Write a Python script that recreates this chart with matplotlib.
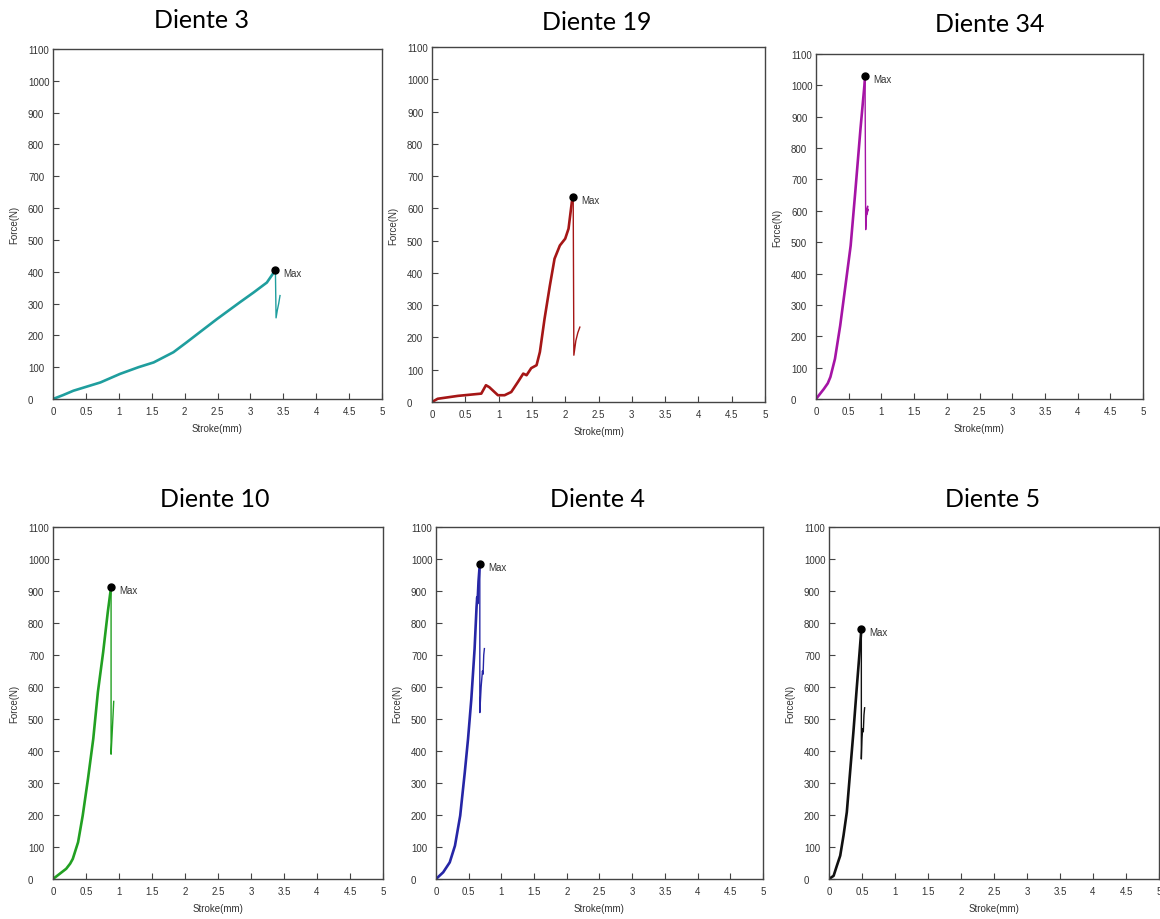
import matplotlib
matplotlib.use("Agg")
import matplotlib.pyplot as plt
from matplotlib.ticker import MultipleLocator, FuncFormatter

# ---------------- data ----------------
titles = ["Diente 3", "Diente 19", "Diente 34", "Diente 10", "Diente 4", "Diente 5"]
colors = ["#1f9e9e", "#a51616", "#a514a5", "#22a022", "#2626a6", "#111111"]

# loading curves (stroke mm, force N)
d3_x = [0, 0.15, 0.31, 0.72, 1.02, 1.30, 1.53, 1.83, 2.03, 2.25, 2.49, 2.84, 3.05, 3.25, 3.38]
d3_y = [0, 12, 26, 52, 79, 100, 115, 147, 178, 213, 251, 304, 335, 366, 405]
d19_x = [0, 0.085, 0.39, 0.69, 0.74, 0.81, 0.86, 0.99, 1.09, 1.19, 1.29, 1.37, 1.42, 1.49, 1.57,
         1.62, 1.69, 1.77, 1.84, 1.92, 2.00, 2.05, 2.10, 2.12]
d19_y = [0, 10, 19, 25, 26, 52, 46, 21, 21, 31, 62, 88, 83, 105, 114,
         155, 258, 361, 444, 485, 506, 537, 620, 635]
d34_x = [0, 0.12, 0.18, 0.22, 0.29, 0.37, 0.45, 0.53, 0.60, 0.68, 0.74, 0.75]
d34_y = [0, 32, 50, 70, 128, 234, 361, 489, 659, 861, 999, 1030]
d10_x = [0, 0.10, 0.20, 0.26, 0.30, 0.38, 0.45, 0.53, 0.61, 0.68, 0.76, 0.83, 0.87, 0.88]
d10_y = [0, 16, 32, 48, 63, 115, 198, 313, 438, 584, 709, 834, 897, 912]
d4_x = [0, 0.11, 0.21, 0.29, 0.37, 0.44, 0.49, 0.54, 0.59, 0.62, 0.63, 0.635, 0.65, 0.67]
d4_y = [0, 21, 52, 104, 198, 333, 438, 562, 719, 850, 880, 862, 930, 985]
d5_x = [0, 0.07, 0.12, 0.17, 0.22, 0.27, 0.32, 0.37, 0.42, 0.46, 0.49]
d5_y = [0, 10, 42, 73, 136, 209, 335, 460, 596, 700, 780]

# post-failure segments
f3_x = [3.38, 3.39, 3.41, 3.43, 3.45]
f3_y = [405, 255, 280, 300, 325]
f19_x = [2.12, 2.13, 2.16, 2.19, 2.22]
f19_y = [635, 145, 190, 215, 232]
f34_x = [0.75, 0.76, 0.77, 0.79, 0.78, 0.80, 0.78]
f34_y = [1030, 540, 580, 615, 600, 605, 590]
f10_x = [0.88, 0.88, 0.90, 0.92]
f10_y = [912, 390, 470, 555]
f4_x = [0.67, 0.67, 0.69, 0.71, 0.72, 0.73, 0.74]
f4_y = [985, 520, 600, 650, 640, 700, 720]
f5_x = [0.49, 0.49, 0.50, 0.51, 0.52, 0.53, 0.54]
f5_y = [780, 375, 440, 470, 460, 513, 535]

load_x = [d3_x, d19_x, d34_x, d10_x, d4_x, d5_x]
load_y = [d3_y, d19_y, d34_y, d10_y, d4_y, d5_y]
fail_x = [f3_x, f19_x, f34_x, f10_x, f4_x, f5_x]
fail_y = [f3_y, f19_y, f34_y, f10_y, f4_y, f5_y]
max_x = [3.38, 2.12, 0.75, 0.88, 0.67, 0.49]
max_y = [405, 635, 1030, 912, 985, 780]

# ---------------- layout (pixels) ----------------
W, H = 1160, 920
boxes = [(53, 382, 50, 400), (432, 765, 48, 403), (816, 1143, 55, 400),
         (53, 383, 528, 880), (436, 763, 528, 880), (829, 1159, 528, 880)]
title_pos = [(201, 21), (597, 22), (990, 25), (215, 500), (598, 500), (993, 500)]

fig = plt.figure(figsize=(W / 100, H / 100), dpi=100)
fig.patch.set_facecolor("white")

def fmt(v, p):
    return f"{v:g}"

for i in range(6):
    l, r, t, b = boxes[i]
    ax = fig.add_axes([l / W, (H - b) / H, (r - l) / W, (b - t) / H])
    ax.plot(load_x[i], load_y[i], color=colors[i], lw=1.9, solid_capstyle="round",
            solid_joinstyle="round")
    ax.plot(fail_x[i], fail_y[i], color=colors[i], lw=1.0)
    ax.plot([max_x[i]], [max_y[i]], "o", color="black", ms=5, zorder=5)
    ax.annotate("Max", (max_x[i], max_y[i]), xytext=(6, -2), textcoords="offset points",
                fontsize=7, color="#333333", family="Liberation Sans", va="center")
    ax.set_xlim(0, 5)
    ax.set_ylim(0, 1100)
    ax.xaxis.set_major_locator(MultipleLocator(0.5))
    ax.yaxis.set_major_locator(MultipleLocator(100))
    ax.xaxis.set_major_formatter(FuncFormatter(fmt))
    ax.yaxis.set_major_formatter(FuncFormatter(fmt))
    ax.tick_params(direction="in", length=4, width=0.8, colors="#444444",
                   labelsize=7, labelcolor="#333333")
    ax.tick_params(axis="x", pad=5)
    ax.tick_params(axis="y", pad=18)
    for lab in ax.get_xticklabels() + ax.get_yticklabels():
        lab.set_family("Liberation Sans")
    for lab in ax.get_yticklabels():
        lab.set_horizontalalignment("left")
    for s in ax.spines.values():
        s.set_color("#444444")
        s.set_linewidth(1.0)
    ax.set_xlabel("Stroke(mm)", fontsize=7, color="#333333", family="Liberation Sans", labelpad=5)
    ax.set_ylabel("Force(N)", fontsize=7, color="#333333", family="Liberation Sans", labelpad=6)
    tx, ty = title_pos[i]
    fig.text(tx / W, 1 - ty / H, titles[i], ha="center", va="center", fontsize=18,
             family="Lato", color="black")

fig.savefig("out.png", dpi=100)
